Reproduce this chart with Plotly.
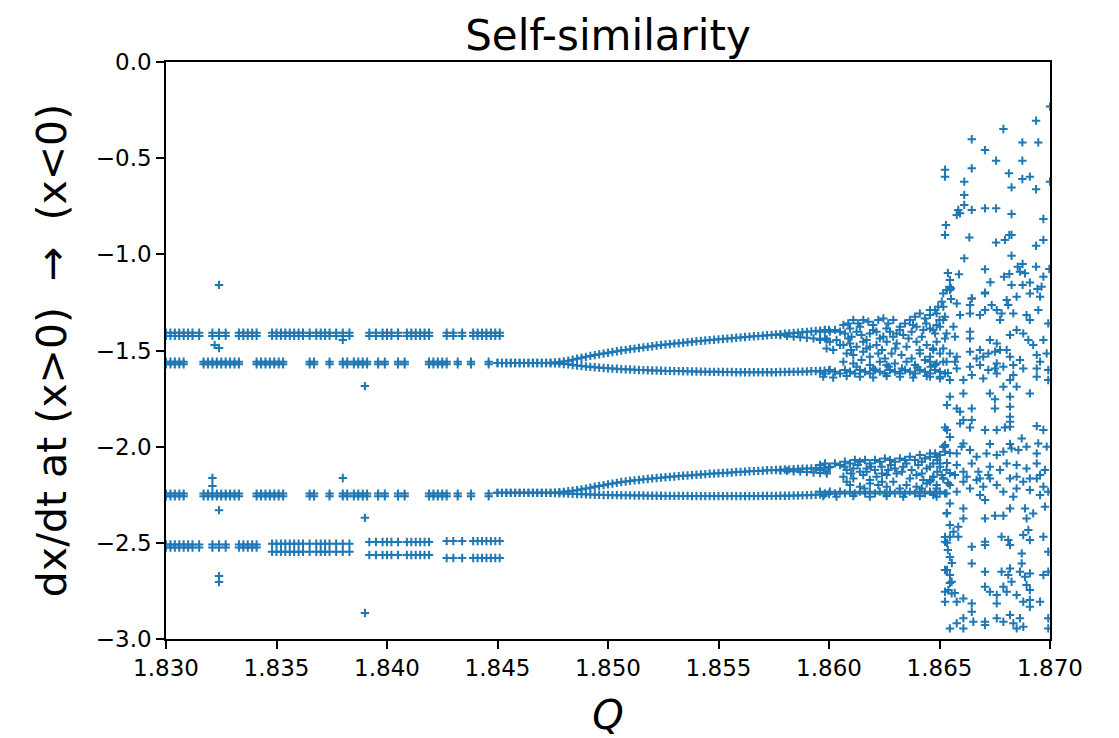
import plotly.graph_objects as go

BLUE = "#1f77b4"
FONT = "DejaVu Sans"

# ---------------------------------------------------------------------------
# Periodic windows, 1.830 <= Q <= 1.845: Q samples of each cluster row and the
# dx/dt levels the orbit visits there.
outer_q_early = [1.8300, 1.8302, 1.8304, 1.8306, 1.8308, 1.8310, 1.8312, 1.8315,
                 1.8321, 1.8324, 1.8327,
                 1.8333, 1.8335, 1.8337, 1.8339, 1.8341]
outer_q_mid = [1.8348, 1.8350, 1.8352, 1.8354, 1.8356, 1.8358, 1.8360, 1.8362, 1.8365,
               1.8368, 1.8370, 1.8372, 1.8374, 1.8377,
               1.8380, 1.8383]
outer_q_late = [1.8392, 1.8395,
                1.8398, 1.8400, 1.8402, 1.8405,
                1.8409, 1.8411, 1.8413, 1.8415, 1.8417, 1.8419]
outer_q_end = [1.8427, 1.8430,
               1.8434,
               1.8439, 1.8441, 1.8443, 1.8445, 1.8447, 1.8449, 1.8451]
inner_q = [1.8300, 1.8302, 1.8304, 1.8306, 1.8308,
           1.8317, 1.8319, 1.8321, 1.8323, 1.8325, 1.8327, 1.8329, 1.8331, 1.8333,
           1.8341, 1.8343, 1.8345, 1.8347, 1.8349, 1.8351, 1.8353,
           1.8365, 1.8367,
           1.8374,
           1.8380, 1.8382, 1.8385, 1.8387, 1.8389, 1.8391,
           1.8396, 1.8399,
           1.8405, 1.8408,
           1.8419, 1.8421, 1.8423, 1.8425, 1.8427,
           1.8432, 1.8438, 1.8446]

outer_top_levels = [-1.408, -1.424]
inner_top_levels = [-1.558, -1.572]
inner_low_levels = [-2.244, -2.258]
outer_low_levels_early = [-2.509, -2.524]
outer_low_levels_mid = [-2.505, -2.546]
outer_low_levels_late = [-2.496, -2.563]
outer_low_levels_end = [-2.491, -2.579]

window_strays = [(1.8324, -1.159), (1.8322, -1.471), (1.8324, -1.487), (1.8380, -1.445),
                 (1.8390, -1.685), (1.8321, -2.163), (1.8321, -2.205), (1.8324, -2.330),
                 (1.8380, -2.163), (1.8390, -2.370), (1.8324, -2.673), (1.8324, -2.704),
                 (1.8390, -2.865)]

# ---------------------------------------------------------------------------
# Period-doubled branches, 1.845 <= Q <= 1.860.
branch_q = [1.8450, 1.8452, 1.8454, 1.8456, 1.8458, 1.8460, 1.8462, 1.8464, 1.8466, 1.8468,
            1.8470, 1.8472, 1.8474, 1.8476, 1.8478, 1.8480, 1.8482, 1.8484, 1.8486, 1.8488,
            1.8490, 1.8492, 1.8494, 1.8496, 1.8498, 1.8500, 1.8502, 1.8504, 1.8506, 1.8508,
            1.8510, 1.8512, 1.8514, 1.8516, 1.8518, 1.8520, 1.8522, 1.8524, 1.8526, 1.8528,
            1.8530, 1.8532, 1.8534, 1.8536, 1.8538, 1.8540, 1.8542, 1.8544, 1.8546, 1.8548,
            1.8550, 1.8552, 1.8554, 1.8556, 1.8558, 1.8560, 1.8562, 1.8564, 1.8566, 1.8568,
            1.8570, 1.8572, 1.8574, 1.8576, 1.8578, 1.8580, 1.8582, 1.8584, 1.8586, 1.8588,
            1.8590, 1.8592, 1.8594, 1.8596, 1.8598, 1.8600]
branch_top_a = [-1.565, -1.565, -1.565, -1.565, -1.565, -1.565, -1.565, -1.565, -1.565, -1.565,
                -1.565, -1.565, -1.564, -1.562, -1.560, -1.557, -1.553, -1.548, -1.543, -1.538,
                -1.533, -1.528, -1.524, -1.520, -1.516, -1.512, -1.508, -1.504, -1.500, -1.497,
                -1.493, -1.490, -1.487, -1.484, -1.481, -1.478, -1.474, -1.471, -1.469, -1.467,
                -1.464, -1.462, -1.460, -1.457, -1.455, -1.452, -1.450, -1.448, -1.446, -1.444,
                -1.442, -1.440, -1.438, -1.436, -1.434, -1.432, -1.430, -1.428, -1.426, -1.425,
                -1.423, -1.421, -1.419, -1.417, -1.415, -1.413, -1.411, -1.409, -1.407, -1.405,
                -1.403, -1.401, -1.399, -1.397, -1.395, -1.393]
branch_top_b = [-1.565, -1.565, -1.565, -1.565, -1.565, -1.565, -1.565, -1.565, -1.565, -1.565,
                -1.565, -1.565, -1.566, -1.567, -1.568, -1.570, -1.572, -1.575, -1.578, -1.581,
                -1.583, -1.585, -1.587, -1.589, -1.591, -1.592, -1.594, -1.595, -1.597, -1.598,
                -1.599, -1.600, -1.601, -1.602, -1.603, -1.604, -1.604, -1.605, -1.606, -1.606,
                -1.607, -1.607, -1.608, -1.608, -1.609, -1.609, -1.610, -1.610, -1.611, -1.611,
                -1.611, -1.612, -1.612, -1.612, -1.613, -1.613, -1.613, -1.613, -1.613, -1.613,
                -1.613, -1.613, -1.613, -1.613, -1.612, -1.612, -1.611, -1.611, -1.610, -1.610,
                -1.609, -1.608, -1.607, -1.606, -1.605, -1.604]
branch_low_a = [-2.240, -2.240, -2.240, -2.240, -2.240, -2.240, -2.240, -2.240, -2.240, -2.240,
                -2.240, -2.240, -2.240, -2.239, -2.237, -2.235, -2.232, -2.229, -2.226, -2.222,
                -2.218, -2.213, -2.208, -2.204, -2.200, -2.196, -2.192, -2.188, -2.184, -2.181,
                -2.178, -2.175, -2.173, -2.170, -2.168, -2.165, -2.163, -2.161, -2.159, -2.157,
                -2.155, -2.153, -2.151, -2.150, -2.148, -2.146, -2.145, -2.143, -2.141, -2.140,
                -2.138, -2.137, -2.135, -2.134, -2.132, -2.131, -2.130, -2.128, -2.127, -2.126,
                -2.125, -2.123, -2.122, -2.121, -2.120, -2.119, -2.118, -2.117, -2.116, -2.115,
                -2.114, -2.113, -2.112, -2.110, -2.109, -2.108]
branch_low_b = [-2.240, -2.240, -2.240, -2.240, -2.240, -2.240, -2.240, -2.240, -2.240, -2.240,
                -2.240, -2.240, -2.240, -2.241, -2.242, -2.243, -2.244, -2.245, -2.246, -2.247,
                -2.248, -2.249, -2.250, -2.250, -2.251, -2.251, -2.252, -2.252, -2.253, -2.253,
                -2.253, -2.254, -2.254, -2.254, -2.255, -2.255, -2.255, -2.255, -2.256, -2.256,
                -2.256, -2.256, -2.256, -2.256, -2.257, -2.257, -2.257, -2.257, -2.257, -2.257,
                -2.257, -2.257, -2.257, -2.257, -2.257, -2.257, -2.257, -2.257, -2.257, -2.257,
                -2.256, -2.256, -2.256, -2.256, -2.255, -2.255, -2.255, -2.254, -2.254, -2.253,
                -2.252, -2.251, -2.250, -2.249, -2.248, -2.246]

# Second doubling just before Q = 1.860
split_q = [1.8578, 1.8581, 1.8584, 1.8587, 1.8590, 1.8593, 1.8596, 1.8599]
split_top = [-1.420, -1.424, -1.428, -1.431, -1.434, -1.437, -1.440, -1.443]
split_low = [-2.124, -2.126, -2.128, -2.130, -2.132, -2.134, -2.137, -2.140]

# ---------------------------------------------------------------------------
# Banded (cascade) region, 1.8596 <= Q <= 1.8653
band_top = [
    (1.85959, -1.402), (1.85982, -1.393), (1.86004, -1.402), (1.86027, -1.393), (1.86050, -1.402),
    (1.85959, -1.445), (1.85982, -1.437), (1.86004, -1.454), (1.86034, -1.445),
    (1.85989, -1.489), (1.86019, -1.497), (1.86050, -1.471),
    (1.85959, -1.610), (1.85982, -1.619), (1.86004, -1.601), (1.86027, -1.610), (1.86050, -1.619),
    (1.86072, -1.601), (1.86095, -1.610), (1.86117, -1.619), (1.86140, -1.601), (1.86163, -1.610),
    (1.86185, -1.619), (1.86208, -1.601), (1.86230, -1.610), (1.86253, -1.619), (1.86276, -1.601),
    (1.86298, -1.610), (1.86321, -1.619), (1.86344, -1.601), (1.86366, -1.610), (1.86389, -1.619),
    (1.86411, -1.601), (1.86434, -1.610), (1.86457, -1.619), (1.86480, -1.601), (1.86502, -1.610),
    (1.86525, -1.619),
    (1.85974, -1.636), (1.86019, -1.640), (1.86080, -1.633), (1.86140, -1.636), (1.86200, -1.640),
    (1.86261, -1.633), (1.86321, -1.636), (1.86381, -1.640), (1.86442, -1.633), (1.86502, -1.636),
    (1.86065, -1.367), (1.86087, -1.359), (1.86110, -1.341), (1.86132, -1.359), (1.86155, -1.341),
    (1.86178, -1.350), (1.86200, -1.367), (1.86223, -1.341), (1.86246, -1.333), (1.86268, -1.359),
    (1.86291, -1.341), (1.86321, -1.376), (1.86344, -1.359), (1.86366, -1.341), (1.86389, -1.324),
    (1.86411, -1.307), (1.86434, -1.333), (1.86457, -1.315), (1.86480, -1.290), (1.86494, -1.272),
    (1.86510, -1.246), (1.86517, -1.203), (1.86532, -1.185),
    (1.86072, -1.411), (1.86102, -1.428), (1.86125, -1.402), (1.86147, -1.419), (1.86185, -1.411),
    (1.86215, -1.402), (1.86246, -1.428), (1.86276, -1.402), (1.86306, -1.411), (1.86336, -1.419),
    (1.86374, -1.402), (1.86396, -1.376), (1.86427, -1.393), (1.86457, -1.385), (1.86487, -1.367),
    (1.86517, -1.341),
    (1.86065, -1.471), (1.86095, -1.463), (1.86125, -1.480), (1.86155, -1.454), (1.86185, -1.480),
    (1.86215, -1.471), (1.86261, -1.454), (1.86306, -1.463), (1.86351, -1.480), (1.86396, -1.454),
    (1.86442, -1.471), (1.86487, -1.454), (1.86525, -1.437),
    (1.86080, -1.515), (1.86110, -1.523), (1.86155, -1.506), (1.86185, -1.532), (1.86223, -1.515),
    (1.86253, -1.541), (1.86283, -1.515), (1.86328, -1.523), (1.86374, -1.541), (1.86411, -1.515),
    (1.86457, -1.532), (1.86502, -1.515),
    (1.86065, -1.558), (1.86110, -1.567), (1.86147, -1.549), (1.86185, -1.575), (1.86230, -1.558),
    (1.86261, -1.575), (1.86298, -1.567), (1.86351, -1.558), (1.86389, -1.575), (1.86434, -1.549),
    (1.86480, -1.575), (1.86517, -1.558),
    (1.86095, -1.385), (1.86140, -1.376), (1.86200, -1.393), (1.86260, -1.385), (1.86320, -1.393),
    (1.86380, -1.367), (1.86440, -1.359), (1.86500, -1.341),
    (1.86087, -1.437), (1.86170, -1.445), (1.86230, -1.437), (1.86290, -1.428), (1.86360, -1.437),
    (1.86420, -1.428), (1.86480, -1.411),
    (1.86100, -1.497), (1.86170, -1.489), (1.86240, -1.497), (1.86300, -1.489), (1.86410, -1.497),
    (1.86470, -1.489),
    (1.86125, -1.584), (1.86200, -1.593), (1.86270, -1.584), (1.86330, -1.593), (1.86400, -1.589),
    (1.86460, -1.584),
]
band_low = [
    (1.85959, -2.095), (1.85982, -2.087), (1.86004, -2.104), (1.86027, -2.087), (1.86050, -2.095),
    (1.86072, -2.078), (1.86095, -2.087), (1.86117, -2.069), (1.86140, -2.078), (1.86163, -2.069),
    (1.86185, -2.087), (1.86208, -2.069), (1.86230, -2.078), (1.86253, -2.061), (1.86276, -2.069),
    (1.86298, -2.078), (1.86321, -2.061), (1.86344, -2.069), (1.86366, -2.052), (1.86389, -2.069),
    (1.86411, -2.043), (1.86434, -2.061), (1.86457, -2.052), (1.86480, -2.035), (1.86502, -2.043),
    (1.86517, -2.000), (1.86525, -1.991),
    (1.85959, -2.121), (1.85989, -2.130), (1.86080, -2.121), (1.86110, -2.113), (1.86140, -2.130),
    (1.86170, -2.113), (1.86208, -2.121), (1.86238, -2.104), (1.86268, -2.121), (1.86298, -2.113),
    (1.86336, -2.104), (1.86374, -2.121), (1.86404, -2.095), (1.86442, -2.113), (1.86472, -2.087),
    (1.86502, -2.104),
    (1.86065, -2.156), (1.86110, -2.165), (1.86155, -2.147), (1.86185, -2.173), (1.86215, -2.156),
    (1.86261, -2.147), (1.86306, -2.139), (1.86366, -2.165), (1.86396, -2.147), (1.86427, -2.173),
    (1.86472, -2.156), (1.86510, -2.147),
    (1.86095, -2.199), (1.86140, -2.208), (1.86185, -2.191), (1.86223, -2.199), (1.86261, -2.208),
    (1.86291, -2.182), (1.86351, -2.199), (1.86396, -2.208), (1.86442, -2.191), (1.86487, -2.199),
    (1.85959, -2.234), (1.85982, -2.243), (1.86004, -2.234), (1.86027, -2.243), (1.86050, -2.234),
    (1.86072, -2.243), (1.86095, -2.234), (1.86117, -2.243), (1.86140, -2.234), (1.86163, -2.243),
    (1.86185, -2.234), (1.86208, -2.243), (1.86230, -2.234), (1.86253, -2.243), (1.86276, -2.234),
    (1.86298, -2.243), (1.86321, -2.234), (1.86344, -2.243), (1.86366, -2.234), (1.86389, -2.243),
    (1.86411, -2.234), (1.86434, -2.243), (1.86457, -2.234), (1.86480, -2.243), (1.86502, -2.234),
    (1.86525, -2.243),
    (1.85974, -2.257), (1.86034, -2.260), (1.86110, -2.257), (1.86185, -2.260), (1.86261, -2.257),
    (1.86336, -2.260), (1.86411, -2.257), (1.86487, -2.260),
    (1.86100, -2.139), (1.86170, -2.130), (1.86240, -2.139), (1.86330, -2.130), (1.86420, -2.139),
    (1.86490, -2.130),
    (1.86080, -2.182), (1.86160, -2.217), (1.86240, -2.182), (1.86320, -2.217), (1.86420, -2.217),
    (1.86460, -2.173),
    (1.86070, -2.104), (1.86130, -2.095), (1.86190, -2.104), (1.86280, -2.095), (1.86350, -2.087),
    (1.86420, -2.078), (1.86490, -2.069),
]

# ---------------------------------------------------------------------------
# Chaotic regime, Q > 1.865
chaos_edge = [
    (1.86525, -0.560), (1.86529, -0.848), (1.86538, -1.097), (1.86547, -1.133), (1.86547, -1.170),
    (1.86538, -1.617), (1.86547, -1.653), (1.86534, -1.783), (1.86534, -1.913), (1.86547, -1.950),
    (1.86547, -2.033), (1.86534, -2.085), (1.86547, -2.137), (1.86538, -2.189), (1.86534, -2.345),
    (1.86525, -2.470), (1.86534, -2.500), (1.86538, -2.537), (1.86547, -2.574), (1.86556, -2.605),
    (1.86534, -2.641), (1.86547, -2.709), (1.86569, -2.761),
]
chaos_high = [
    (1.86525, -0.596), (1.86646, -0.402), (1.86789, -0.348), (1.86937, -0.305), (1.87000, -0.232),
    (1.86706, -0.458), (1.86875, -0.418), (1.86947, -0.418), (1.86756, -0.513), (1.86875, -0.513),
    (1.86646, -0.553), (1.86612, -0.622), (1.86814, -0.579), (1.86875, -0.608), (1.86909, -0.596),
    (1.86826, -0.652), (1.86937, -0.662), (1.87000, -0.622), (1.86612, -0.691), (1.86612, -0.743),
    (1.86585, -0.769), (1.86578, -0.795), (1.86593, -0.787), (1.86646, -0.769), (1.86706, -0.761),
    (1.86756, -0.761), (1.86826, -0.790), (1.86970, -0.816), (1.86525, -0.899), (1.86635, -0.912),
    (1.86756, -0.939), (1.86796, -0.925), (1.86816, -0.899), (1.86826, -0.899), (1.86970, -0.925),
    (1.86937, -0.955), (1.86826, -1.007), (1.86612, -1.021), (1.86588, -1.104), (1.86706, -1.078),
    (1.86792, -1.116), (1.86816, -1.102), (1.86854, -1.064), (1.86876, -1.050), (1.86864, -1.090),
    (1.86887, -1.099), (1.86937, -1.064), (1.86997, -1.076), (1.86970, -1.116), (1.86730, -1.145),
    (1.86826, -1.159), (1.86876, -1.159), (1.86909, -1.147), (1.86943, -1.180), (1.86962, -1.168),
    (1.86532, -1.185), (1.86552, -1.177), (1.86706, -1.199), (1.86552, -1.232), (1.86646, -1.229),
]
chaos_mid = [
    (1.86547, -1.186), (1.86646, -1.229), (1.86706, -1.203), (1.86804, -1.238), (1.86849, -1.220),
    (1.86909, -1.203), (1.86955, -1.220),
    (1.86457, -1.290), (1.86487, -1.307), (1.86517, -1.272), (1.86525, -1.324), (1.86578, -1.255),
    (1.86593, -1.316), (1.86638, -1.264), (1.86638, -1.307), (1.86683, -1.316), (1.86706, -1.290),
    (1.86736, -1.264), (1.86759, -1.290), (1.86781, -1.307), (1.86811, -1.264), (1.86774, -1.341),
    (1.86834, -1.307), (1.86894, -1.316), (1.86909, -1.341), (1.86947, -1.290), (1.86992, -1.359),
    (1.86472, -1.393), (1.86502, -1.376), (1.86532, -1.411), (1.86563, -1.376), (1.86570, -1.428),
    (1.86638, -1.402), (1.86638, -1.437), (1.86728, -1.445), (1.86759, -1.463), (1.86819, -1.419),
    (1.86849, -1.393), (1.86879, -1.411), (1.86902, -1.445), (1.86924, -1.471), (1.86970, -1.445),
    (1.86472, -1.497), (1.86517, -1.489), (1.86547, -1.515), (1.86578, -1.532), (1.86638, -1.506),
    (1.86683, -1.497), (1.86668, -1.541), (1.86698, -1.532), (1.86721, -1.515), (1.86751, -1.506),
    (1.86774, -1.497), (1.86804, -1.497), (1.86759, -1.567), (1.86819, -1.532), (1.86864, -1.549),
    (1.86940, -1.523), (1.86955, -1.558), (1.86985, -1.515),
    (1.86457, -1.558), (1.86487, -1.567), (1.86532, -1.558), (1.86570, -1.558), (1.86578, -1.593),
    (1.86638, -1.584), (1.86683, -1.575), (1.86721, -1.601), (1.86751, -1.593), (1.86789, -1.584),
    (1.86834, -1.575), (1.86879, -1.593), (1.86940, -1.593), (1.86992, -1.601),
    (1.86457, -1.636), (1.86502, -1.645), (1.86608, -1.653), (1.86646, -1.627), (1.86698, -1.645),
    (1.86759, -1.619), (1.86819, -1.653), (1.86834, -1.627), (1.86940, -1.636), (1.86992, -1.653),
    (1.86789, -1.688), (1.86849, -1.688), (1.86547, -1.740), (1.86608, -1.723), (1.86728, -1.723),
    (1.86751, -1.754), (1.86819, -1.740), (1.86909, -1.723), (1.86578, -1.801), (1.86593, -1.818),
    (1.86646, -1.801), (1.86751, -1.801), (1.86819, -1.792), (1.86819, -1.844), (1.86608, -1.861),
    (1.86646, -1.861), (1.86593, -1.879), (1.86819, -1.870), (1.86525, -1.900), (1.86638, -1.900),
    (1.86706, -1.913), (1.86759, -1.913), (1.86796, -1.900), (1.86819, -1.896), (1.86940, -1.893),
    (1.86970, -1.913), (1.86872, -1.957), (1.86525, -2.000), (1.86608, -1.983), (1.86728, -1.986),
    (1.86819, -1.986), (1.86947, -1.983),
    (1.86457, -2.035), (1.86487, -2.052), (1.86525, -2.026), (1.86578, -2.035), (1.86600, -2.000),
    (1.86638, -2.017), (1.86668, -2.052), (1.86713, -2.035), (1.86759, -2.043), (1.86789, -2.026),
    (1.86826, -2.009), (1.86857, -2.017), (1.86894, -2.000), (1.86940, -2.035), (1.86985, -2.000),
    (1.86457, -2.104), (1.86502, -2.087), (1.86532, -2.121), (1.86578, -2.095), (1.86608, -2.130),
    (1.86646, -2.087), (1.86676, -2.130), (1.86728, -2.104), (1.86774, -2.121), (1.86804, -2.087),
    (1.86849, -2.095), (1.86894, -2.113), (1.86940, -2.087), (1.86977, -2.121),
    (1.86472, -2.156), (1.86517, -2.165), (1.86570, -2.147), (1.86623, -2.156), (1.86683, -2.165),
    (1.86721, -2.147), (1.86849, -2.156), (1.86909, -2.165), (1.86955, -2.147),
]
chaos_low = [
    (1.86457, -2.182), (1.86487, -2.217), (1.86517, -2.165), (1.86547, -2.199), (1.86578, -2.234),
    (1.86608, -2.182), (1.86638, -2.217), (1.86668, -2.173), (1.86698, -2.208), (1.86728, -2.165),
    (1.86759, -2.199), (1.86789, -2.234), (1.86819, -2.165), (1.86849, -2.217), (1.86879, -2.182),
    (1.86909, -2.225), (1.86940, -2.165), (1.86970, -2.208), (1.86992, -2.234), (1.86472, -2.251),
    (1.86532, -2.243), (1.86683, -2.251), (1.86834, -2.260), (1.86955, -2.251),
    (1.86547, -2.295), (1.86608, -2.321), (1.86706, -2.277), (1.86819, -2.321), (1.86887, -2.321),
    (1.86977, -2.312), (1.86532, -2.347), (1.86608, -2.373), (1.86706, -2.373), (1.86751, -2.359),
    (1.86789, -2.359), (1.86894, -2.373), (1.86924, -2.347),
    (1.86547, -2.407), (1.86563, -2.442), (1.86585, -2.416), (1.86585, -2.468), (1.86547, -2.468),
    (1.86781, -2.468), (1.86811, -2.485), (1.86819, -2.511), (1.86879, -2.459), (1.86902, -2.433),
    (1.86909, -2.485), (1.86970, -2.468), (1.86992, -2.546), (1.86525, -2.494), (1.86646, -2.520),
    (1.86706, -2.494), (1.86706, -2.511), (1.86872, -2.555), (1.86646, -2.607), (1.86872, -2.607),
    (1.86525, -2.641), (1.86547, -2.667), (1.86555, -2.702), (1.86540, -2.745), (1.86525, -2.754),
    (1.86555, -2.763),
    (1.86706, -2.650), (1.86781, -2.650), (1.86819, -2.633), (1.86811, -2.667), (1.86826, -2.702),
    (1.86864, -2.650), (1.86887, -2.676), (1.86894, -2.719), (1.86909, -2.659), (1.86909, -2.745),
    (1.86970, -2.667), (1.86992, -2.650), (1.86706, -2.728), (1.86728, -2.754), (1.86759, -2.771),
    (1.86789, -2.728), (1.86804, -2.754), (1.86849, -2.771), (1.86879, -2.806), (1.86909, -2.797),
    (1.86955, -2.806),
    (1.86525, -2.806), (1.86578, -2.806), (1.86608, -2.789), (1.86646, -2.815), (1.86646, -2.858),
    (1.86608, -2.892), (1.86578, -2.918), (1.86547, -2.945), (1.86608, -2.945), (1.86653, -2.910),
    (1.86706, -2.910), (1.86706, -2.927), (1.86759, -2.892), (1.86789, -2.910), (1.86819, -2.875),
    (1.86834, -2.918), (1.86849, -2.945), (1.86864, -2.892), (1.86879, -2.936), (1.86909, -2.832),
    (1.86992, -2.892), (1.86992, -2.945), (1.86759, -2.815),
]

# Axis ticks
x_ticks = [1.830, 1.835, 1.840, 1.845, 1.850, 1.855, 1.860, 1.865, 1.870]
x_tick_text = ["1.830", "1.835", "1.840", "1.845", "1.850", "1.855", "1.860", "1.865", "1.870"]
y_ticks = [0.0, -0.5, -1.0, -1.5, -2.0, -2.5, -3.0]
y_tick_text = ["0.0", "\u22120.5", "\u22121.0", "\u22121.5", "\u22122.0", "\u22122.5", "\u22123.0"]

# ---------------------------------------------------------------------------
# Collect every (Q, dx/dt) sample into one scatter series
qs, vs = [], []


def add_rows(q_list, levels):
    for q in q_list:
        for v in levels:
            qs.append(q)
            vs.append(v)


def add_pairs(pairs):
    for q, v in pairs:
        qs.append(q)
        vs.append(v)


for q_list in (outer_q_early, outer_q_mid, outer_q_late, outer_q_end):
    add_rows(q_list, outer_top_levels)
add_rows(inner_q, inner_top_levels)
add_rows(inner_q, inner_low_levels)
add_rows(outer_q_early, outer_low_levels_early)
add_rows(outer_q_mid, outer_low_levels_mid)
add_rows(outer_q_late, outer_low_levels_late)
add_rows(outer_q_end, outer_low_levels_end)
add_pairs(window_strays)

for branch in (branch_top_a, branch_top_b, branch_low_a, branch_low_b):
    add_pairs(zip(branch_q, branch))
add_pairs(zip(split_q, split_top))
add_pairs(zip(split_q, split_low))

for group in (band_top, band_low, chaos_edge, chaos_high, chaos_mid, chaos_low):
    add_pairs(group)

fig = go.Figure()
fig.add_trace(go.Scatter(
    x=qs, y=vs, mode="markers",
    marker=dict(symbol="cross-thin", size=6, color=BLUE,
                line=dict(width=2, color=BLUE)),
    showlegend=False, hoverinfo="x+y",
))

axis_common = dict(
    showline=True, linecolor="black", linewidth=1.5, mirror=True,
    ticks="outside", ticklen=8, tickwidth=1.5, tickcolor="black",
    showgrid=False, zeroline=False, automargin=False,
    tickfont=dict(family=FONT, size=23, color="black"),
)

fig.update_layout(
    width=1119, height=738,
    margin=dict(l=166, r=69, t=62, b=99),
    paper_bgcolor="white", plot_bgcolor="white",
    title=dict(text="Self-similarity", x=0.5, xref="paper", xanchor="center",
               y=0.952, yref="container", yanchor="middle",
               font=dict(family=FONT, size=42, color="black")),
    xaxis=dict(range=[1.830, 1.870], tickvals=x_ticks, ticktext=x_tick_text,
               title=dict(text="<i>Q</i>", standoff=26,
                          font=dict(family=FONT, size=40, color="black")),
               **axis_common),
    yaxis=dict(range=[-3.0, 0.0], tickvals=y_ticks, ticktext=y_tick_text,
               title=dict(text="dx/dt at (x>0)  \u2192  (x<0)", standoff=16,
                          font=dict(family=FONT, size=41, color="black")),
               **axis_common),
)

fig.write_html("out.html")
